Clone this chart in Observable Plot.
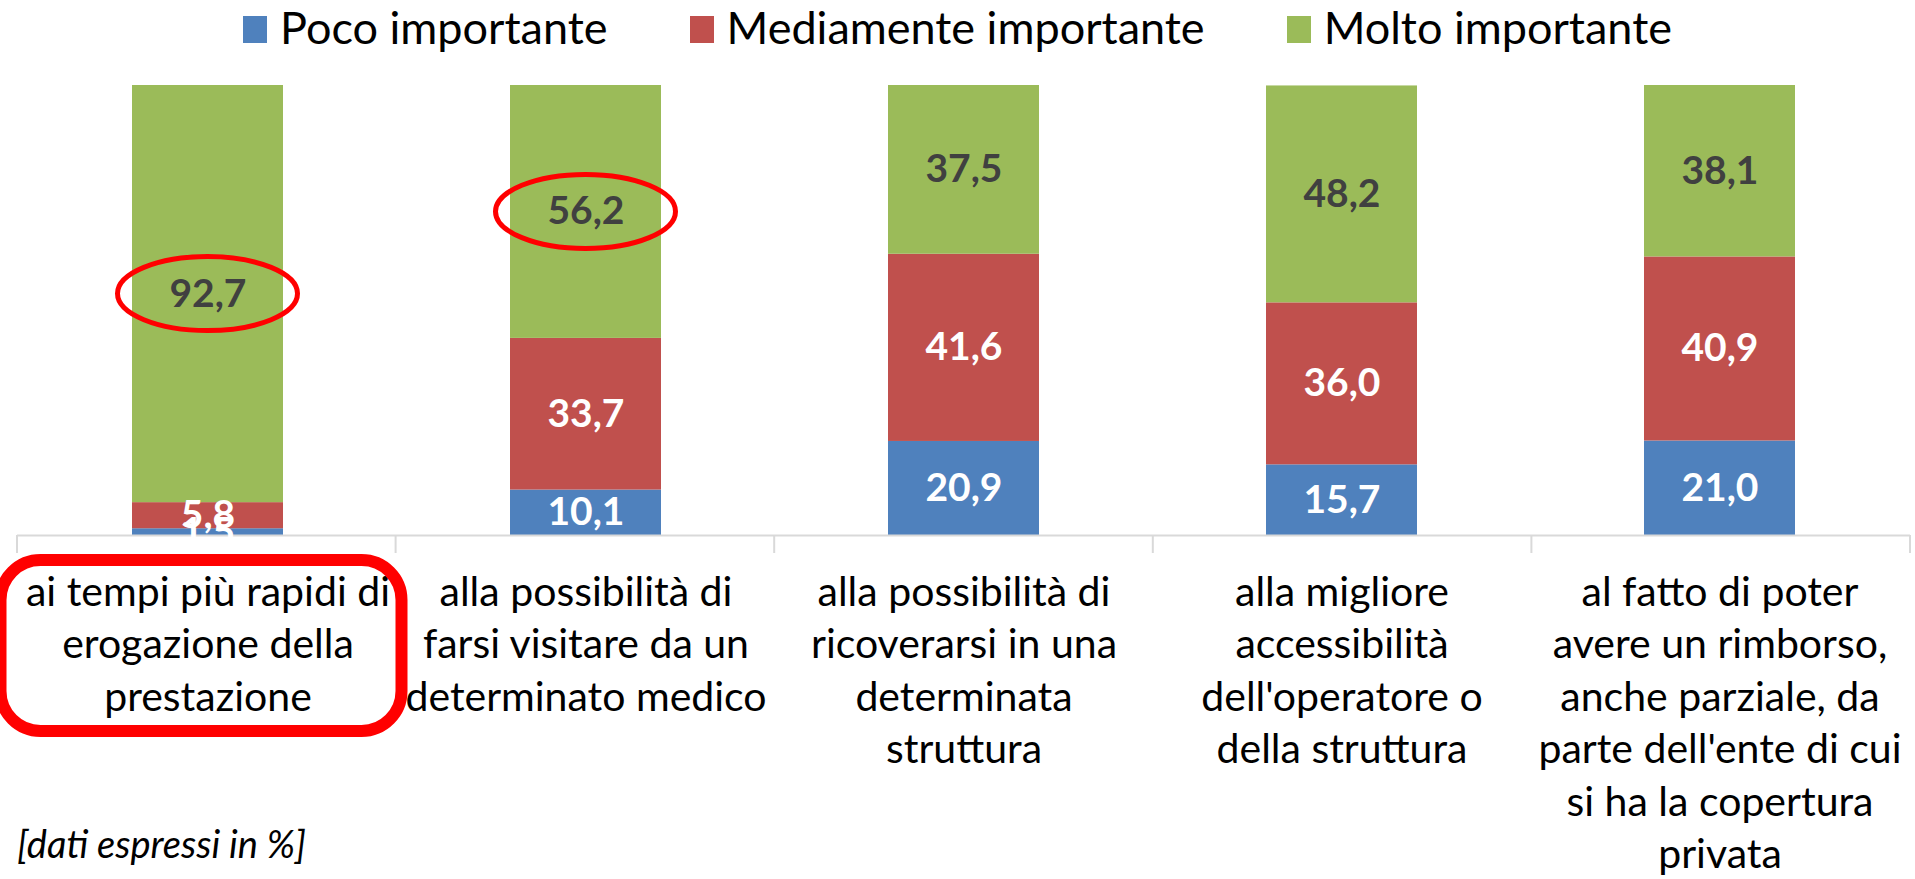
<!DOCTYPE html>
<html><head><meta charset="utf-8">
<script src="https://cdn.jsdelivr.net/npm/d3@7"></script>
<script src="https://cdn.jsdelivr.net/npm/@observablehq/plot@0.6"></script>
<style>
body{margin:0;background:#fff;font-family:Lato,sans-serif;}
#wrap{position:relative;width:1915px;height:879px;overflow:hidden;background:#fff}
#legend{height:54px;display:flex;justify-content:center;align-items:center;gap:82px;font-size:45px;color:#000;line-height:1.2}
.item{display:flex;align-items:center}
.sw{width:24px;height:27px;margin-right:13px;margin-top:5px}
#chart svg{display:block}
#note{position:absolute;left:17px;top:824px;font-size:38px;font-style:italic;line-height:1;color:#000}
</style></head><body>
<div id="wrap"><div id="legend"></div><div id="chart"></div><div id="note">[dati espressi in %]</div></div>
<script>
const categories = [
  "ai tempi più rapidi di\nerogazione della\nprestazione",
  "alla possibilità di\nfarsi visitare da un\ndeterminato medico",
  "alla possibilità di\nricoverarsi in una\ndeterminata\nstruttura",
  "alla migliore\naccessibilità\ndell'operatore o\ndella struttura",
  "al fatto di poter\navere un rimborso,\nanche parziale, da\nparte dell'ente di cui\nsi ha la copertura\nprivata"
];
const series = ["Poco importante", "Mediamente importante", "Molto importante"];
const poco  = [1.5, 10.1, 20.9, 15.7, 21.0];
const medio = [5.8, 33.7, 41.6, 36.0, 40.9];
const molto = [92.7, 56.2, 37.5, 48.2, 38.1];
const colors = ["#4F81BD", "#C0504D", "#9BBB59"];
const labelColors = ["#ffffff", "#ffffff", "#404040"];
// labels circled in red: [category index, series index]
const circled = [[0, 2], [1, 2]];
const boxedCategory = 0;

const values = [poco, medio, molto];
const data = [];
series.forEach((s, si) => categories.forEach((c, ci) => data.push({cat: c, series: s, si, ci, value: values[si][ci]})));
const fmt = v => v.toFixed(1).replace(".", ",");

// legend
const legend = document.getElementById("legend");
series.forEach((s, i) => {
  const it = document.createElement("div"); it.className = "item";
  const sw = document.createElement("div"); sw.className = "sw"; sw.style.background = colors[i];
  const t = document.createElement("span"); t.textContent = s;
  it.appendChild(sw); it.appendChild(t); legend.appendChild(it);
});

const plot = Plot.plot({
  width: 1915, height: 825,
  marginTop: 31, marginBottom: 344, marginLeft: 17, marginRight: 5,
  style: {fontFamily: "Lato, sans-serif", background: "#fff", overflow: "visible"},
  x: {domain: categories, paddingInner: 0.6, paddingOuter: 0.3, label: null},
  y: {domain: [0, 100], axis: null},
  color: {domain: series, range: colors},
  marks: [
    Plot.barY(data, {x: "cat", y: "value", fill: "series", z: "series"}),
    Plot.ruleY([0], {stroke: "#D9D9D9", strokeWidth: 2}),
    Plot.text(data, Plot.stackY({x: "cat", y: "value", z: "series", text: d => fmt(d.value),
      fill: d => labelColors[d.si], fontSize: 39, fontWeight: 700})),
    Plot.axisX({tickSize: 0, tickPadding: 33, fontSize: 41, lineHeight: 52.5 / 41, fill: "#000", label: null})
  ]
});
document.getElementById("chart").appendChild(plot);

// decorations positioned from the plot's scales
const xs = plot.scale("x"), ys = plot.scale("y");
const svg = d3.select(plot);
const step = (xs.range[1] - xs.range[0]) / categories.length;
const y0 = ys.apply(0);
const g = svg.append("g");
for (let i = 0; i <= categories.length; i++) {
  const x = xs.range[0] + i * step;
  g.append("line").attr("x1", x).attr("x2", x).attr("y1", y0).attr("y2", y0 + 18)
    .attr("stroke", "#D9D9D9").attr("stroke-width", 2);
}
const center = c => xs.apply(c) + xs.bandwidth / 2;
circled.forEach(([ci, si]) => {
  let base = 0; for (let k = 0; k < si; k++) base += values[k][ci];
  const mid = base + values[si][ci] / 2;
  g.append("ellipse").attr("cx", center(categories[ci])).attr("cy", ys.apply(mid))
    .attr("rx", 90).attr("ry", 37).attr("fill", "none").attr("stroke", "#FF0000").attr("stroke-width", 5);
});
const bc = center(categories[boxedCategory]);
g.append("rect").attr("x", bc - 207).attr("y", y0 + 25).attr("width", 401).attr("height", 171)
  .attr("rx", 40).attr("fill", "none").attr("stroke", "#FF0000").attr("stroke-width", 12);
</script>
</body></html>
